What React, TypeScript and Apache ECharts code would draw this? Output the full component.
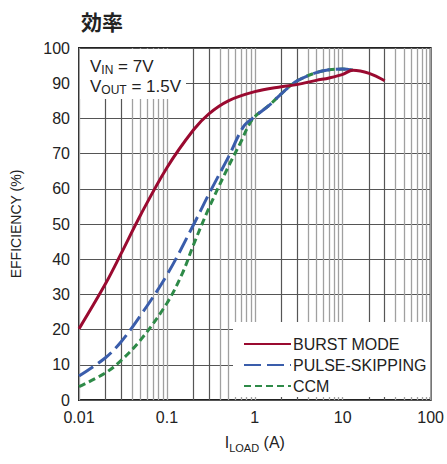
import React, { useEffect, useRef } from "react";
import * as echarts from "echarts";

const burstX = [0.01, 0.02, 0.03, 0.05, 0.1, 0.2, 0.3, 0.5, 1, 2, 3, 5, 7, 10, 13, 20, 30];
const burstY = [20.2, 33, 41.5, 52.5, 66, 76.7, 81.3, 85, 87.6, 89, 89.6, 90.8, 91.5, 92.5, 93.7, 92.8, 90.7];

const pulseX = [0.01, 0.02, 0.03, 0.05, 0.1, 0.2, 0.3, 0.5, 0.75, 1, 1.5, 2, 3, 5, 7, 10, 13];
const pulseY = [6.8, 12, 16.5, 24, 35.5, 49.7, 58.5, 69, 77.8, 80.5, 84, 87, 90.6, 93, 93.8, 94, 93.7];

const ccmX = [0.01, 0.02, 0.03, 0.05, 0.1, 0.15, 0.2, 0.3, 0.5, 0.7, 0.85, 1, 1.5, 2, 3, 5, 7, 10, 13];
const ccmY = [3.8, 7.7, 11.2, 17, 27.5, 36, 44, 54.5, 66.3, 73.5, 78, 80.5, 84, 87, 90.6, 93, 93.8, 94, 93.7];

const xTickLabels: Record<string, string> = { "0.01": "0.01", "0.1": "0.1", "1": "1", "10": "10", "100": "100" };
const decades = [0.01, 0.1, 1, 10];
const darkGrid = decades.flatMap((d) => [2, 3].map((k) => +(k * d).toPrecision(3)));
const lightGrid = decades.flatMap((d) => [4, 5, 6, 7, 8, 9].map((k) => +(k * d).toPrecision(3)));

const NARROW = "'Liberation Sans Narrow', 'Liberation Sans', Arial, sans-serif";

function pairs(xs: number[], ys: number[]) {
  return xs.map((x, i) => [x, ys[i]]);
}

export default function App() {
  const ref = useRef<HTMLDivElement>(null);
  useEffect(() => {
    const chart = echarts.init(ref.current!, null, { renderer: "svg" });
    chart.setOption({
      animation: false,
      backgroundColor: "#fff",
      title: {
        text: "効率",
        left: 76,
        top: 5,
        textStyle: { fontSize: 21, fontWeight: "bold", fontFamily: "'Noto Sans CJK JP', sans-serif", color: "#222" },
      },
      grid: { left: 79, right: 16, top: 48, bottom: 64, show: true, borderColor: "#222", borderWidth: 2, backgroundColor: "transparent" },
      legend: {
        orient: "vertical",
        left: 238,
        top: 331,
        itemWidth: 47,
        itemHeight: 14,
        itemGap: 5,
        itemStyle: { opacity: 0 },
        textStyle: { fontSize: 16, fontFamily: NARROW, color: "#222", padding: [0, 0, 0, -3] },
        data: ["BURST MODE", "PULSE-SKIPPING", "CCM"],
        z: 80,
      },
      xAxis: {
        type: "log",
        logBase: 10,
        min: 0.01,
        max: 100,
        name: "{a|I}{b|LOAD}{a| (A)}",
        nameLocation: "middle",
        nameGap: 31,
        nameTextStyle: {
          rich: {
            a: { fontSize: 16, fontFamily: NARROW, color: "#222", lineHeight: 22, verticalAlign: "middle" },
            b: { fontSize: 11, fontFamily: NARROW, color: "#222", lineHeight: 22, verticalAlign: "bottom" },
          },
        },
        axisLine: { show: false },
        axisTick: { show: false },
        axisLabel: {
          fontSize: 16,
          fontFamily: NARROW,
          color: "#222",
          margin: 9,
          formatter: (v: number) => xTickLabels[String(+v.toPrecision(3))] ?? "",
        },
        splitLine: { show: true, lineStyle: { color: "#a0a0a0", width: 1.3 } },
      },
      yAxis: {
        type: "value",
        min: 0,
        max: 100,
        interval: 10,
        name: "EFFICIENCY (%)",
        nameLocation: "middle",
        nameGap: 56,
        nameTextStyle: { fontSize: 14, fontFamily: NARROW, color: "#222" },
        axisLine: { show: false },
        axisTick: { show: false },
        axisLabel: { fontSize: 16, fontFamily: NARROW, color: "#222", margin: 9 },
        splitLine: { show: true, lineStyle: { color: "#555", width: 1.2 } },
      },
      graphic: [
        { type: "rect", shape: { x: 80, y: 49, width: 106, height: 50 }, style: { fill: "#fff" }, z: 50 },
        { type: "rect", shape: { x: 233, y: 322, width: 197, height: 75 }, style: { fill: "#fff" }, z: 50 },
        {
          type: "text",
          x: 90,
          y: 56,
          z: 51,
          style: {
            text: "{a|V}{b|IN}{a| = 7V}\n{a|V}{b|OUT}{a| = 1.5V}",
            fill: "#222",
            rich: {
              a: { fontSize: 17, fontFamily: NARROW, fill: "#222", lineHeight: 20, verticalAlign: "middle" },
              b: { fontSize: 12, fontFamily: NARROW, fill: "#222", lineHeight: 20, verticalAlign: "bottom" },
            },
          },
        },
      ],
      series: [
        {
          name: "gridLight",
          type: "line",
          data: [],
          z: 1,
          markLine: {
            silent: true,
            z: 1,
            symbol: "none",
            label: { show: false },
            lineStyle: { color: "#a0a0a0", width: 1.3, type: "solid" },
            data: lightGrid.map((v) => ({ xAxis: v })),
          },
        },
        {
          name: "gridDark",
          type: "line",
          data: [],
          z: 1,
          markLine: {
            silent: true,
            z: 2,
            symbol: "none",
            label: { show: false },
            lineStyle: { color: "#555", width: 1.2, type: "solid" },
            data: darkGrid.map((v) => ({ xAxis: v })),
          },
        },
        {
          name: "BURST MODE",
          type: "line",
          data: pairs(burstX, burstY),
          smooth: 0.35,
          showSymbol: false,
          symbol: "none",
          z: 62,
          lineStyle: { color: "#9a0a30", width: 3 },
          itemStyle: { color: "#9a0a30" },
        },
        {
          name: "CCM",
          type: "line",
          data: pairs(ccmX, ccmY),
          smooth: 0.35,
          showSymbol: false,
          symbol: "none",
          z: 60,
          lineStyle: { color: "#2e8a48", width: 3, type: [7, 4] },
          itemStyle: { color: "#2e8a48" },
        },
        {
          name: "PULSE-SKIPPING",
          type: "line",
          data: pairs(pulseX, pulseY),
          smooth: 0.35,
          showSymbol: false,
          symbol: "none",
          z: 61,
          lineStyle: { color: "#3a5dab", width: 3, type: [17, 6] },
          itemStyle: { color: "#3a5dab" },
        },
      ],
    });
    return () => chart.dispose();
  }, []);
  return <div ref={ref} style={{ position: "absolute", left: 0, top: 0, width: 447, height: 464 }} />;
}
